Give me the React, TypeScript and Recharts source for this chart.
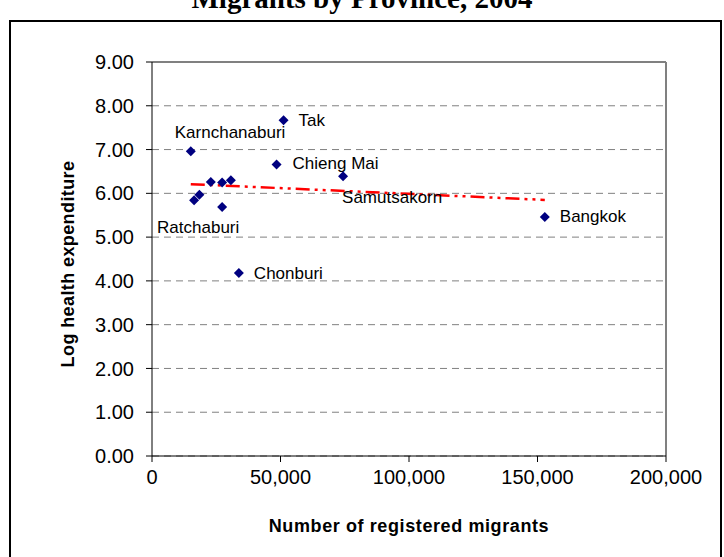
import React from "react";
import {
  ScatterChart,
  Scatter,
  XAxis,
  YAxis,
  CartesianGrid,
  ReferenceLine,
} from "recharts";

// province labels ("" = unlabelled point)
const provinces = [
  "Karnchanaburi",
  "Tak",
  "Chieng Mai",
  "Samutsakorn",
  "Bangkok",
  "Chonburi",
  "Ratchaburi",
  "",
  "",
  "",
  "",
  "",
];
const migrants = [15090, 51190, 48460, 74350, 152840, 33800, 16380, 18440, 22890, 27290, 30690, 27290];
const logHealth = [6.96, 7.67, 6.66, 6.39, 5.46, 4.18, 5.84, 5.97, 6.26, 6.25, 6.3, 5.69];

// linear trend line end points
const trendX = [15090, 152840];
const trendY = [6.21, 5.85];

const xTicks = [0, 50000, 100000, 150000, 200000];
const yTicks = [0, 1, 2, 3, 4, 5, 6, 7, 8, 9];

const FONT = "'Liberation Sans', Arial, sans-serif";

// where each label sits relative to its marker (text start, vertical centre)
const labelOffset: Record<string, [number, number]> = {
  Karnchanaburi: [-16, -19],
  Tak: [15, 0],
  "Chieng Mai": [16, -1],
  Samutsakorn: [-1, 21],
  Bangkok: [15, 0],
  Chonburi: [15, 0],
  Ratchaburi: [-37, 27],
};

const points = migrants.map((x, i) => ({ x, y: logHealth[i], name: provinces[i] }));
const trend = trendX.map((x, i) => ({ x, y: trendY[i] }));

function Diamond(props: any) {
  const { cx, cy, payload } = props;
  if (cx == null || cy == null) return <g />;
  const s = 5;
  const off = payload?.name ? labelOffset[payload.name] : null;
  return (
    <g>
      <path
        d={`M${cx},${cy - s}L${cx + s},${cy}L${cx},${cy + s}L${cx - s},${cy}Z`}
        fill="#000080"
      />
      {off && (
        <text
          x={cx + off[0]}
          y={cy + off[1]}
          dominantBaseline="central"
          fontSize={17}
          fontFamily={FONT}
          fill="#000"
        >
          {payload.name}
        </text>
      )}
    </g>
  );
}

export default function App() {
  return (
    <div style={{ position: "relative", width: 724, height: 557, background: "#fff", overflow: "hidden" }}>
      <style>{`body{margin:0}`}</style>
      <ScatterChart
        width={724}
        height={557}
        margin={{ top: 62, right: 58, left: 72, bottom: 61 }}
      >
        <CartesianGrid
          vertical={false}
          stroke="#808080"
          strokeDasharray="7 5"
        />
        <XAxis
          type="number"
          dataKey="x"
          domain={[0, 200000]}
          ticks={xTicks}
          tickFormatter={(v: number) => v.toLocaleString("en-US")}
          height={40}
          stroke="#000"
          tickSize={6}
          tickMargin={8}
          tick={{ fontSize: 20, fill: "#000", fontFamily: FONT }}
        />
        <YAxis
          type="number"
          dataKey="y"
          domain={[0, 9]}
          ticks={yTicks}
          tickFormatter={(v: number) => v.toFixed(2)}
          width={80}
          stroke="#000"
          tickSize={6}
          tickMargin={12}
          tick={{ fontSize: 20, fill: "#000", fontFamily: FONT }}
        />
        <ReferenceLine y={9} stroke="#808080" strokeWidth={2} />
        <ReferenceLine x={200000} stroke="#808080" strokeWidth={2} />
        <Scatter
          data={trend}
          line={{ stroke: "#ff0000", strokeWidth: 2.5, strokeDasharray: "14 5 3 5 3 5" }}
          lineType="joint"
          shape={() => <g />}
          isAnimationActive={false}
        />
        <Scatter data={points} shape={Diamond} isAnimationActive={false} />
      </ScatterChart>
      <svg
        width={724}
        height={557}
        style={{ position: "absolute", left: 0, top: 0, pointerEvents: "none" }}
      >
        <text
          x={362}
          y={8}
          textAnchor="middle"
          fontSize={29}
          fontWeight="bold"
          fontFamily="'Liberation Serif', 'Times New Roman', serif"
          fill="#000"
        >
          Migrants by Province, 2004
        </text>
        <path d="M10,600 L10,21 L721,21 L721,600" fill="none" stroke="#000" strokeWidth={2} />
        <text
          x={409}
          y={532}
          textAnchor="middle"
          fontSize={18}
          fontWeight="bold"
          letterSpacing={0.6}
          fontFamily={FONT}
          fill="#000"
        >
          Number of registered migrants
        </text>
        <text
          x={74}
          y={264}
          transform="rotate(-90 74 264)"
          textAnchor="middle"
          fontSize={18}
          fontWeight="bold"
          letterSpacing={0.4}
          fontFamily={FONT}
          fill="#000"
        >
          Log health expenditure
        </text>
      </svg>
    </div>
  );
}
